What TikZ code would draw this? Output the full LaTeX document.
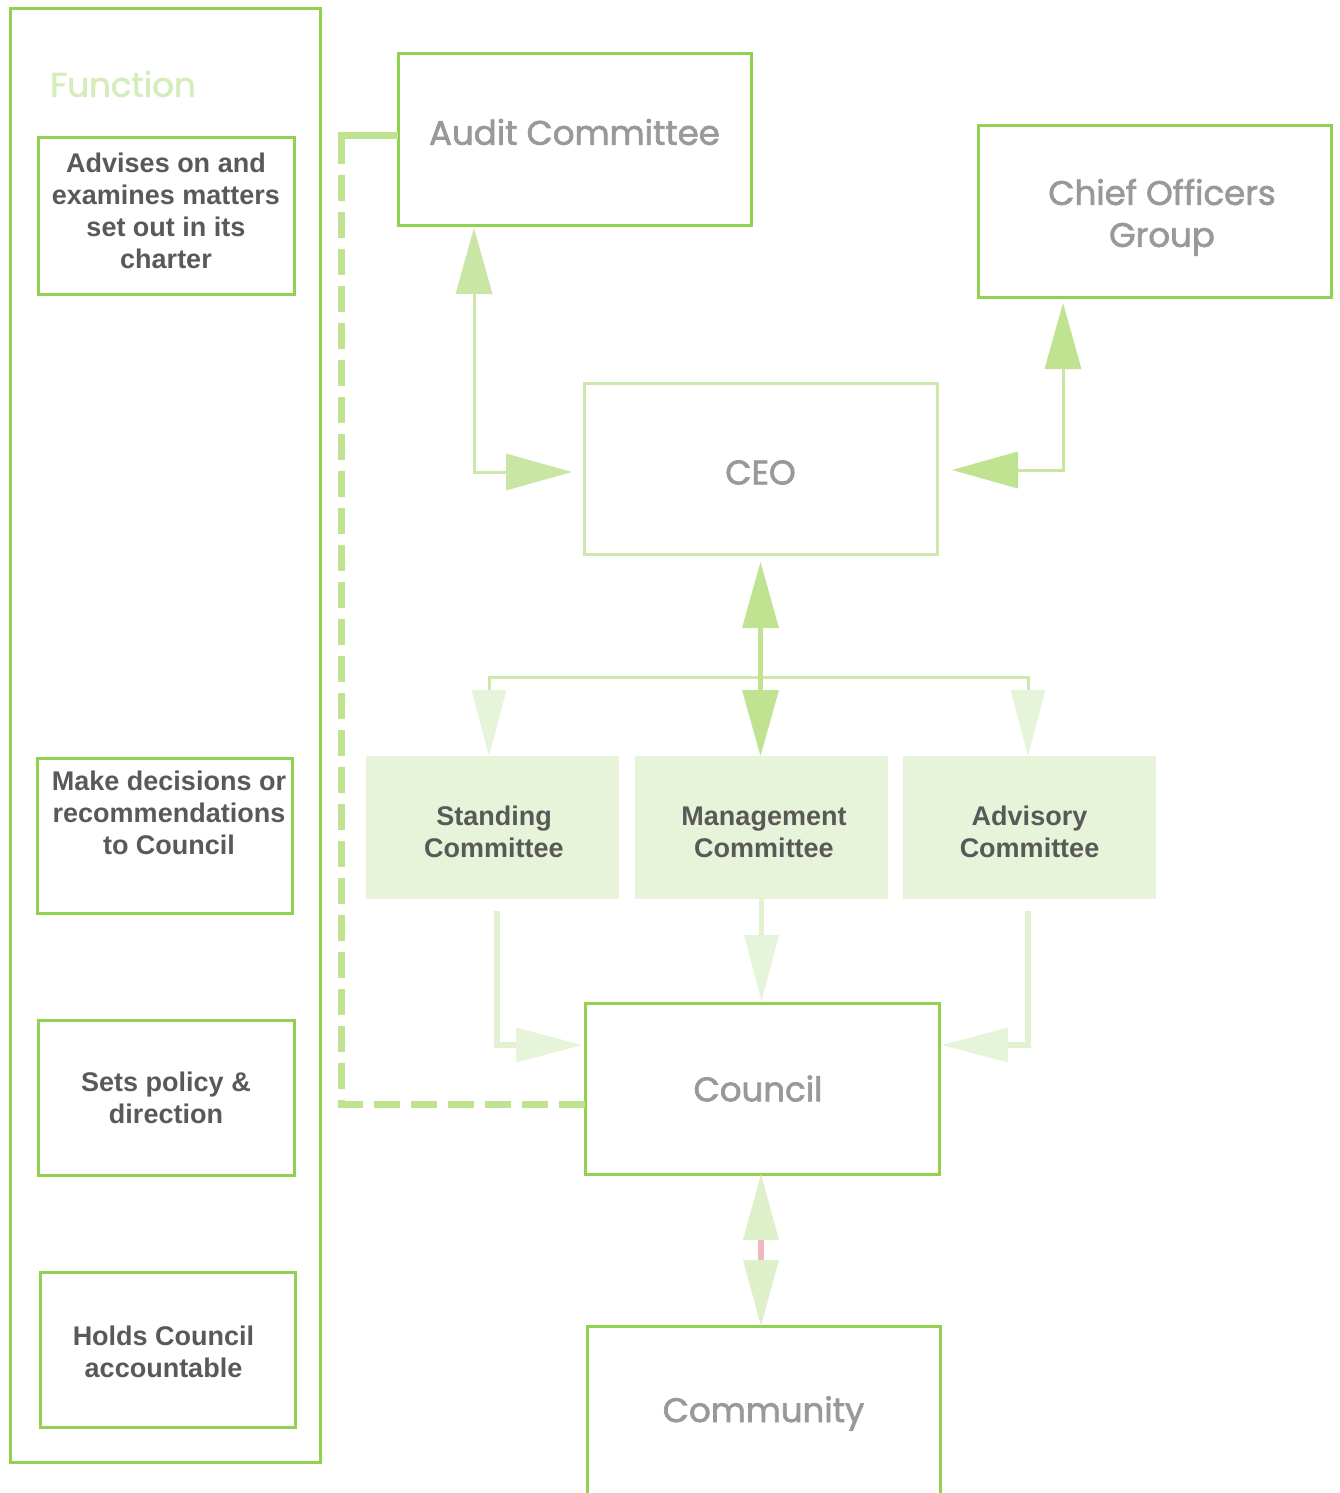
\documentclass[tikz,border=0pt]{standalone}
\usepackage{fontspec}
\setmainfont{Liberation Sans}
\newfontfamily\geo{Poppins}[FakeBold=2]
\usetikzlibrary{arrows.meta}
\definecolor{boxgreen}{HTML}{92D050}
\definecolor{ceogreen}{HTML}{CDE8AC}
\definecolor{funcgreen}{HTML}{D5EDBC}
\definecolor{biggray}{HTML}{999999}
\definecolor{darkgray}{HTML}{595959}
\definecolor{commfill}{HTML}{E8F4DA}
\definecolor{headA}{HTML}{C9E6A5}
\definecolor{lineA}{HTML}{CDE8AC}
\definecolor{headB}{HTML}{BFE391}
\definecolor{lineB}{HTML}{C7E6A0}
\definecolor{paleHead}{HTML}{E6F4D9}
\definecolor{paleLine}{HTML}{E2F2D0}
\definecolor{commHead}{HTML}{DDF0C9}
\definecolor{pinkline}{HTML}{F0B8BE}
\definecolor{dashgreen}{HTML}{C0E391}
\newcommand\ml[1]{\begin{tabular}{@{}c@{}}#1\end{tabular}}
\tikzset{
  bigbox/.style={draw=boxgreen, line width=3pt, minimum width=353pt, minimum height=171pt, inner sep=0pt, outer sep=0pt},
  ceobox/.style={bigbox, draw=ceogreen},
  commbox/.style={fill=commfill, draw=none, minimum width=253pt, minimum height=143pt, inner sep=0pt, outer sep=0pt},
  funcbox/.style={draw=boxgreen, line width=3pt, minimum width=256pt, minimum height=156pt, inner sep=0pt, outer sep=0pt},
  outerbox/.style={draw=boxgreen, line width=3pt, minimum width=310pt, minimum height=1453pt, inner sep=0pt, outer sep=0pt},
  bigtext/.style={inner sep=0pt, text=biggray, font=\geo\fontsize{34}{42}\selectfont},
  smalltext/.style={inner sep=0pt, text=darkgray, font=\bfseries\fontsize{27}{32}\selectfont},
  functitle/.style={text=funcgreen, font=\geo\fontsize{34}{40}\selectfont, inner sep=0pt, anchor=west},
  tipA/.tip={Triangle[length=66pt, width=37pt, line width=0pt, color=headA]},
  tipB/.tip={Triangle[length=66pt, width=37pt, line width=0pt, color=headB]},
  tipP/.tip={Triangle[length=66pt, width=35pt, line width=0pt, color=paleHead]},
  tipC/.tip={Triangle[length=66pt, width=36pt, line width=0pt, color=commHead]},
  connA/.style={draw=lineA, line width=3pt, tipA-tipA},
  connB/.style={draw=lineB, line width=3pt, tipB-tipB},
  connM/.style={draw=headB, line width=5pt, tipB-tipB},
  branch/.style={draw=lineA, line width=3pt, tipP-tipP},
  toCouncil/.style={draw=paleLine, line width=5.5pt, -tipP},
  pubconn/.style={draw=pinkline, line width=6pt, tipC-tipC},
  dashconn/.style={draw=dashgreen, line width=7pt, dash pattern=on 26pt off 11pt},
  solidpart/.style={draw=dashgreen, line width=7pt},
}
\begin{document}
\begin{tikzpicture}[x=1pt, y=-1pt]
\useasboundingbox (0,0) rectangle (1340,1493);
% left function column
\node[outerbox] (outer) at (165,735.5) {};
\node[functitle] (ftitle) at (50,84) {Function};
\node[funcbox, label={[smalltext, yshift=2pt]center:{\ml{Advises on and\\examines matters\\set out in its\\charter}}}] (f1) at (166,216) {};
\node[funcbox, minimum width=255pt, minimum height=155pt,
  label={[smalltext, xshift=4.5pt, yshift=19pt]center:{\ml{Make decisions or\\recommendations\\to Council}}}] (f2) at (164.5,835.5) {};
\node[funcbox, minimum height=155pt,
  label={[smalltext, yshift=-4pt]center:{\ml{Sets policy \&\\direction}}}] (f3) at (166,1097.5) {};
\node[funcbox, minimum width=255pt, minimum height=155pt,
  label={[smalltext, xshift=-4pt, yshift=-6pt]center:{\ml{Holds Council\\accountable}}}] (f4) at (167.5,1349.5) {};
% main boxes
\node[bigbox, label={[bigtext, yshift=7.5pt]center:{Audit Committee}}] (audit) at (574.5,139.5) {};
\node[bigbox, label={[bigtext, xshift=7.5pt, yshift=-6pt]center:{\ml{Chief Officers\\Group}}}] (chief) at (1154.5,211.5) {};
\node[ceobox, label={[bigtext, yshift=-4pt]center:{CEO}}] (ceo) at (760.5,468.5) {};
\node[commbox, label={[smalltext, xshift=1.5pt, yshift=-8pt]center:{\ml{Standing\\Committee}}}] (standing) at (492.5,827.5) {};
\node[commbox, label={[smalltext, xshift=2.5pt, yshift=-8pt]center:{\ml{Management\\Committee}}}] (mgmt) at (761.5,827.5) {};
\node[commbox, label={[smalltext, yshift=-8pt]center:{\ml{Advisory\\Committee}}}] (advisory) at (1029.5,827.5) {};
\node[bigbox, minimum width=354pt, label={[bigtext, xshift=-4pt]center:{Council}}] (council) at (762,1088.5) {};
\node[bigbox, label={[bigtext, yshift=-2pt]center:{Community}}] (community) at (763.5,1411.5) {};
% connectors
\draw[connA, shorten <=3pt, shorten >=12pt] (audit.south -| 474,0) |- (ceo.west |- 0,472);
\draw[connB, shorten <=6pt, shorten >=15pt] (chief.south -| 1063,0) |- (ceo.east |- 0,470);
\draw[branch] (standing.north -| 489,0) -- ++(0,-79) -| (advisory.north -| 1028,0);
\draw[connM, shorten <=8pt] (ceo.south) -- (ceo.south |- mgmt.north);
\draw[toCouncil, shorten <=12pt, shorten >=3pt] (standing.south -| 497,0) |- (council.west |- 0,1045);
\draw[toCouncil, shorten <=12pt, shorten >=3pt] (advisory.south -| 1028,0) |- (council.east |- 0,1045);
\draw[toCouncil, shorten <=-2pt, shorten >=2pt] (mgmt.south) -- (mgmt.south |- council.north);
\draw[pubconn] (council.south -| 761,0) -- (community.north -| 761,0);
\draw[dashconn] (council.west |- 0,1104) -- ++(-244,0) |- (audit.west |- 0,136);
\draw[solidpart] (audit.west |- 0,136) -- ++(-57,0) -- ++(0,21);
\end{tikzpicture}
\end{document}
